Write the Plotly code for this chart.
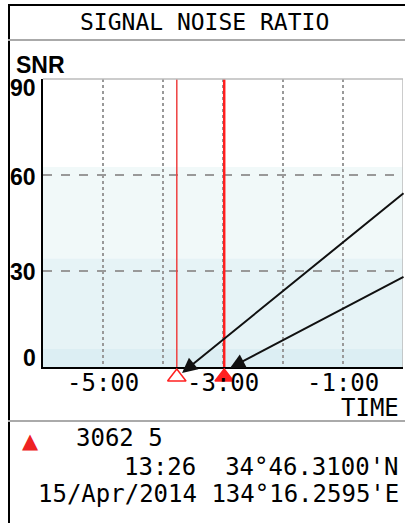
import plotly.graph_objects as go

# ---- data ----
x_minutes = [-6, -5, -4, -3, -2, -1, 0]
x_tick_vals = [-5, -3, -1]
x_tick_text = ["-5:00", "-3:00", "-1:00"]
y_tick_vals = [90, 60, 30, 0]
y_tick_text = ["90", "60", "30", "0"]
y_label_shift = [-9, -2, -1, 9]
band_edges = [0, 5.6, 34, 62.5]
band_colors = ["#dceef3", "#e6f3f6", "#f1f9f9"]
target_times = [-3.77, -2.98]
target_symbols = ["triangle-up-open", "triangle-up"]
target_line_widths = [1.5, 2.5]
target_line_colors = ["#ee4040", "#ff1f1f"]
marker_y = -3.1
arrow_tips_x = [-3.683, -2.883]
arrow_tips_shift = [-6, -1]
arrow_tails = [(223, -181), (175, -92)]
info_id = "3062 5"
info_line2 = "13:26  34°46.3100'N"
info_line3 = "15/Apr/2014 134°16.2595'E"

OFF = 0
W, H = 405, 523
ML, MT = 43, 79
PW = 360
MR = W - ML - PW
PAPER_BOTTOM = 392          # px – strip for target markers below axis
MB = H - PAPER_BOTTOM
PH = PAPER_BOTTOM - MT
AXIS_BOTTOM = 367
STRIP = PAPER_BOTTOM - AXIS_BOTTOM
PX_PER_SNR = (AXIS_BOTTOM - MT) / 90.0


def px(xp):
    return (xp - OFF - ML) / PW


def py(yp):
    return (PAPER_BOTTOM - (yp - OFF)) / PH


MONO = "DejaVu Sans Mono"
fig = go.Figure()

for t, sym, lw, lc in zip(target_times, target_symbols, target_line_widths, target_line_colors):
    fig.add_trace(go.Scatter(x=[t, t], y=[0, 90], mode="lines",
                             line=dict(color=lc, width=lw), hoverinfo="skip",
                             xaxis="x", yaxis="y"))
    fig.add_trace(go.Scatter(x=[t], y=[marker_y], mode="markers", cliponaxis=False,
                             marker=dict(symbol=sym, size=16, color="#ff2020",
                                         line=dict(color="#ff2020", width=1.5)),
                             hoverinfo="skip", xaxis="x2", yaxis="y2"))

shapes = []
for i, c in enumerate(band_colors):
    shapes.append(dict(type="rect", xref="x", yref="y", x0=-6, x1=0,
                       y0=band_edges[i], y1=band_edges[i + 1],
                       fillcolor=c, line=dict(width=0), layer="below"))
# plot border top/right
shapes.append(dict(type="line", xref="paper", yref="paper", x0=0, x1=1, y0=1, y1=1,
                   line=dict(color="#bbbbbb", width=1.5)))
shapes.append(dict(type="line", xref="x", yref="y", x0=0, x1=0, y0=0, y1=90,
                   line=dict(color="#bbbbbb", width=1.5)))
# screen frame
shapes.append(dict(type="line", xref="paper", yref="paper", x0=px(9), x1=px(9), y0=py(5), y1=py(523),
                   line=dict(color="black", width=2)))
shapes.append(dict(type="line", xref="paper", yref="paper", x0=px(8), x1=px(405), y0=py(5), y1=py(5),
                   line=dict(color="black", width=2)))
shapes.append(dict(type="line", xref="paper", yref="paper", x0=px(8), x1=px(405), y0=py(40), y1=py(40),
                   line=dict(color="#aaaaaa", width=2)))
shapes.append(dict(type="line", xref="paper", yref="paper", x0=px(8), x1=px(405), y0=py(421), y1=py(421),
                   line=dict(color="#aaaaaa", width=2)))

ann = []
ann.append(dict(text="SIGNAL NOISE RATIO", xref="paper", yref="paper", x=px(204), y=py(22),
                xanchor="center", yanchor="middle", showarrow=False,
                font=dict(family=MONO, size=23, color="black")))
ann.append(dict(text="SNR", xref="paper", yref="paper", x=px(14), y=py(65),
                xanchor="left", yanchor="middle", showarrow=False,
                font=dict(family="Liberation Sans", size=23, color="black", weight="bold")))
for v, t, s in zip(y_tick_vals, y_tick_text, y_label_shift):
    ann.append(dict(text=t, xref="paper", yref="y", x=px(38), y=v, yshift=s,
                    xanchor="right", yanchor="middle", showarrow=False,
                    font=dict(family="Liberation Sans", size=23, color="black", weight="bold")))
for v, t in zip(x_tick_vals, x_tick_text):
    ann.append(dict(text=t, xref="x", yref="y", x=v, y=0, yshift=-16,
                    xanchor="center", yanchor="middle", showarrow=False,
                    font=dict(family=MONO, size=24, color="black")))
ann.append(dict(text="TIME", xref="paper", yref="paper", x=px(401), y=py(408),
                xanchor="right", yanchor="middle", showarrow=False,
                font=dict(family=MONO, size=24, color="black")))
for tx, sh, (ax, ay) in zip(arrow_tips_x, arrow_tips_shift, arrow_tails):
    ann.append(dict(text="", xref="x", yref="y", x=tx, y=0, yshift=sh,
                    ax=ax, ay=ay, showarrow=True, arrowhead=2, arrowsize=1.5,
                    arrowwidth=2, arrowcolor="#111111"))
ann.append(dict(text="▲", xref="paper", yref="paper", x=px(30), y=py(441),
                xanchor="center", yanchor="middle", showarrow=False,
                font=dict(family="DejaVu Sans", size=21, color="#ee2222")))
ann.append(dict(text=info_id, xref="paper", yref="paper", x=px(74), y=py(438),
                xanchor="left", yanchor="middle", showarrow=False,
                font=dict(family=MONO, size=24, color="black")))
ann.append(dict(text=info_line2, xref="paper", yref="paper", x=px(401), y=py(467),
                xanchor="right", yanchor="middle", showarrow=False,
                font=dict(family=MONO, size=24, color="black")))
ann.append(dict(text=info_line3, xref="paper", yref="paper", x=px(401), y=py(494),
                xanchor="right", yanchor="middle", showarrow=False,
                font=dict(family=MONO, size=24, color="black")))

fig.update_layout(
    width=W, height=H,
    margin=dict(l=ML, r=MR, t=MT, b=MB, pad=0),
    paper_bgcolor="white", plot_bgcolor="white",
    showlegend=False,
    shapes=shapes, annotations=ann,
    xaxis=dict(range=[-6, 0], tickvals=x_minutes, showticklabels=False, ticks="",
               showgrid=True, gridcolor="#999999", griddash="dot", gridwidth=1.5,
               showline=True, linecolor="black", linewidth=2, zeroline=False,
               fixedrange=True, anchor="y", domain=[0, 1]),
    yaxis=dict(range=[0, 90], tickvals=[30, 60], showticklabels=False, ticks="",
               showgrid=True, gridcolor="#999999", griddash="dash", gridwidth=1.5,
               showline=True, linecolor="black", linewidth=2, zeroline=False,
               fixedrange=True, anchor="x", domain=[STRIP / PH, 1]),
    xaxis2=dict(range=[-6, 0], visible=False, showgrid=False, zeroline=False,
                fixedrange=True, anchor="y2", domain=[0, 1]),
    yaxis2=dict(range=[-STRIP / PX_PER_SNR, 0], visible=False, showgrid=False,
                zeroline=False, fixedrange=True, anchor="x2", domain=[0, STRIP / PH]),
)

fig.write_html(
    "out.html",
    config={"displayModeBar": False, "staticPlot": True},
    post_script=("document.documentElement.style.overflow='hidden';"
                 "document.body.style.margin='0';document.body.style.overflow='hidden';"),
)
